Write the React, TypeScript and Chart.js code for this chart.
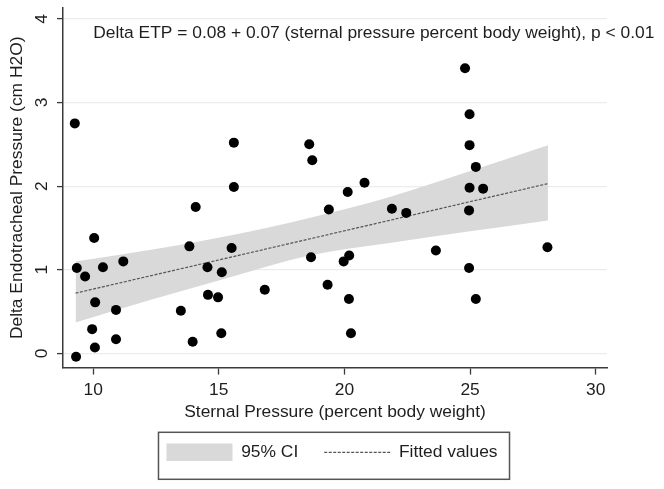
import React, { useEffect, useRef } from 'react';
import { Chart, registerables } from 'chart.js';

Chart.register(...registerables);

const FONT = "'Liberation Sans', Arial, Helvetica, sans-serif";
const FONT_SIZE = 17.4;
const TEXT_COLOR = '#1e1e1e';
const AXIS_COLOR = '#3a3a3a';
const GRID_COLOR = '#ececec';
const BAND_COLOR = '#d9d9d9';
const FIT_COLOR = '#555555';
const POINT_COLOR = '#000000';

// Observations: sternal pressure (x) vs delta endotracheal pressure (y)
const POINT_X = [
  9.27, 15.6, 15.6, 18.6, 18.72, 24.8, 24.98, 24.98, 25.23, 24.98,
  25.52, 20.13, 20.8, 9.32, 9.35, 9.68, 10.04, 10.08, 9.96, 10.07,
  10.39, 11.2, 10.91, 10.91, 13.49, 13.83, 14.08, 13.96, 14.55, 14.57,
  14.97, 15.12, 15.1, 15.51, 16.83, 18.67, 19.33, 19.38, 21.89, 22.46,
  24.96, 23.64, 28.08, 19.97, 20.19, 24.96, 20.18, 25.23, 20.26,
];
const POINT_Y = [
  2.75, 2.52, 1.99, 2.5, 2.31, 3.41, 2.86, 2.49, 2.23, 1.98,
  1.97, 1.93, 2.04, -0.04, 1.02, 0.92, 1.38, 0.61, 0.29, 0.07,
  1.03, 1.1, 0.52, 0.17, 0.51, 1.28, 1.75, 0.14, 1.03, 0.7,
  0.67, 0.97, 0.24, 1.26, 0.76, 1.15, 0.82, 1.72, 1.73, 1.68,
  1.71, 1.23, 1.27, 1.1, 1.17, 1.02, 0.65, 0.65, 0.24,
];

// 95% confidence band
const BAND_X = [9.3, 12.3, 15.45, 18.6, 21.8, 25.0, 28.1];
const BAND_LOWER = [0.37, 0.64, 0.91, 1.17, 1.32, 1.46, 1.59];
const BAND_UPPER = [1.1, 1.24, 1.41, 1.62, 1.87, 2.18, 2.49];

// Fitted line end points
const FIT_X = [9.3, 28.1];
const FIT_Y = [0.72, 2.03];

const X_TICKS = [10, 15, 20, 25, 30];
const Y_TICKS = [0, 1, 2, 3, 4];
const X_RANGE = [8.8, 30.45];
const Y_RANGE = [-0.17, 4.13];

const X_TITLE = 'Sternal Pressure (percent body weight)';
const Y_TITLE = 'Delta Endotracheal Pressure (cm H2O)';
const ANNOTATION = 'Delta ETP = 0.08 + 0.07 (sternal pressure percent body weight), p < 0.01';
const ANNOTATION_AT = [10, 3.83];
const CI_LABEL = '95% CI';
const FIT_LABEL = 'Fitted values';

const toXY = (xs: number[], ys: number[]) => xs.map((x, i) => ({ x, y: ys[i] }));

const annotationPlugin = {
  id: 'annotationText',
  afterDraw(chart: any) {
    const { ctx, scales } = chart;
    const x = scales.x.getPixelForValue(ANNOTATION_AT[0]);
    const y = scales.y.getPixelForValue(ANNOTATION_AT[1]);
    ctx.save();
    ctx.font = `${FONT_SIZE}px ${FONT}`;
    ctx.fillStyle = TEXT_COLOR;
    ctx.textAlign = 'left';
    ctx.textBaseline = 'middle';
    ctx.fillText(ANNOTATION, x, y);
    ctx.restore();
  },
};

const legendBoxPlugin = {
  id: 'legendBorder',
  afterDraw(chart: any) {
    const hb = chart.legend && chart.legend.legendHitBoxes;
    if (!hb || !hb.length) return;
    const first = hb[0];
    const last = hb[hb.length - 1];
    const cy = first.top + first.height / 2;
    const left = first.left - 8;
    const right = last.left + last.width + 12;
    const { ctx } = chart;
    ctx.save();
    ctx.strokeStyle = '#555555';
    ctx.lineWidth = 1.5;
    ctx.strokeRect(left, cy - 20, right - left, 47);
    ctx.restore();
  },
};

export default function App() {
  const ref = useRef<HTMLCanvasElement>(null);

  useEffect(() => {
    document.body.style.margin = '0';
    const canvas = ref.current;
    if (!canvas) return;
    const chart = new Chart(canvas, {
      type: 'scatter',
      data: {
        datasets: [
          {
            label: 'Observations',
            data: toXY(POINT_X, POINT_Y),
            backgroundColor: POINT_COLOR,
            borderColor: POINT_COLOR,
            pointRadius: 5,
            pointBorderWidth: 0,
            showLine: false,
          },
          {
            label: FIT_LABEL,
            data: toXY(FIT_X, FIT_Y),
            showLine: true,
            borderColor: FIT_COLOR,
            borderWidth: 1.2,
            borderDash: [3, 1.5],
            pointRadius: 0,
            fill: false,
          },
          {
            label: CI_LABEL,
            data: toXY(BAND_X, BAND_UPPER),
            showLine: true,
            borderWidth: 0,
            borderColor: BAND_COLOR,
            backgroundColor: BAND_COLOR,
            pointRadius: 0,
            cubicInterpolationMode: 'monotone',
            fill: '+1',
          },
          {
            label: 'CI lower',
            data: toXY(BAND_X, BAND_LOWER),
            showLine: true,
            borderWidth: 0,
            borderColor: BAND_COLOR,
            backgroundColor: BAND_COLOR,
            pointRadius: 0,
            cubicInterpolationMode: 'monotone',
            fill: false,
          },
        ],
      } as any,
      options: {
        animation: false,
        responsive: false,
        maintainAspectRatio: false,
        events: [],
        layout: { padding: { top: 8, bottom: 18, left: 0, right: 0 } },
        font: { family: FONT, size: FONT_SIZE },
        color: TEXT_COLOR,
        scales: {
          x: {
            type: 'linear',
            position: 'bottom',
            min: X_RANGE[0],
            max: X_RANGE[1],
            afterBuildTicks: (s: any) => {
              s.ticks = X_TICKS.map((v) => ({ value: v }));
            },
            afterFit: (s: any) => {
              s.height = 50;
              s.paddingLeft = 0;
              s.paddingRight = 0;
            },
            ticks: {
              color: TEXT_COLOR,
              font: { family: FONT, size: FONT_SIZE },
              padding: 5,
              maxRotation: 0,
              callback: (v: any) => String(v),
            },
            grid: {
              drawOnChartArea: false,
              drawTicks: true,
              tickLength: 7,
              tickColor: AXIS_COLOR,
              tickWidth: 1.3,
            },
            border: { display: true, color: AXIS_COLOR, width: 1.5 },
            title: {
              display: true,
              text: X_TITLE,
              color: TEXT_COLOR,
              font: { family: FONT, size: FONT_SIZE },
              padding: { top: 0, bottom: -5 },
            },
          },
          y: {
            type: 'linear',
            position: 'left',
            min: Y_RANGE[0],
            max: Y_RANGE[1],
            afterBuildTicks: (s: any) => {
              s.ticks = Y_TICKS.map((v) => ({ value: v }));
            },
            afterFit: (s: any) => {
              s.width = 63;
              s.paddingTop = 0;
              s.paddingBottom = 0;
            },
            ticks: {
              color: TEXT_COLOR,
              font: { family: FONT, size: FONT_SIZE },
              padding: 10,
              minRotation: 90,
              maxRotation: 90,
              crossAlign: 'center',
              callback: (v: any) => String(v),
            },
            grid: {
              color: GRID_COLOR,
              lineWidth: 1.2,
              drawTicks: true,
              tickLength: 6,
              tickColor: AXIS_COLOR,
              tickWidth: 1.3,
            },
            border: { display: true, color: AXIS_COLOR, width: 1.5 },
            title: {
              display: true,
              text: Y_TITLE,
              color: TEXT_COLOR,
              font: { family: FONT, size: FONT_SIZE },
              padding: { top: 7, bottom: 0 },
            },
          },
          yRight: {
            type: 'linear',
            position: 'right',
            display: true,
            afterFit: (s: any) => {
              s.width = 57;
              s.paddingTop = 0;
              s.paddingBottom = 0;
            },
            ticks: { display: false },
            grid: { display: false, drawOnChartArea: false, drawTicks: false },
            border: { display: false },
            title: { display: false },
          },
        },
        plugins: {
          tooltip: { enabled: false },
          legend: {
            display: true,
            position: 'bottom',
            labels: {
              usePointStyle: true,
              pointStyleWidth: 66,
              boxHeight: FONT_SIZE,
              padding: 26,
              color: TEXT_COLOR,
              font: { family: FONT, size: FONT_SIZE },
              generateLabels: (c: any) => [
                {
                  text: c.data.datasets[2].label,
                  fillStyle: BAND_COLOR,
                  strokeStyle: BAND_COLOR,
                  lineWidth: 0,
                  pointStyle: 'rect',
                  hidden: false,
                  datasetIndex: 2,
                  fontColor: TEXT_COLOR,
                },
                {
                  text: c.data.datasets[1].label,
                  fillStyle: 'rgba(0,0,0,0)',
                  strokeStyle: FIT_COLOR,
                  lineWidth: 1.2,
                  lineDash: [3, 1.5],
                  pointStyle: 'line',
                  hidden: false,
                  datasetIndex: 1,
                  fontColor: TEXT_COLOR,
                },
              ],
            },
          },
        },
      } as any,
      plugins: [annotationPlugin, legendBoxPlugin],
    });
    return () => chart.destroy();
  }, []);

  return (
    <div style={{ position: 'absolute', left: 0, top: 0, width: 664, height: 489, background: '#ffffff' }}>
      <canvas ref={ref} width={664} height={489} style={{ display: 'block', width: 664, height: 489 }} />
    </div>
  );
}
